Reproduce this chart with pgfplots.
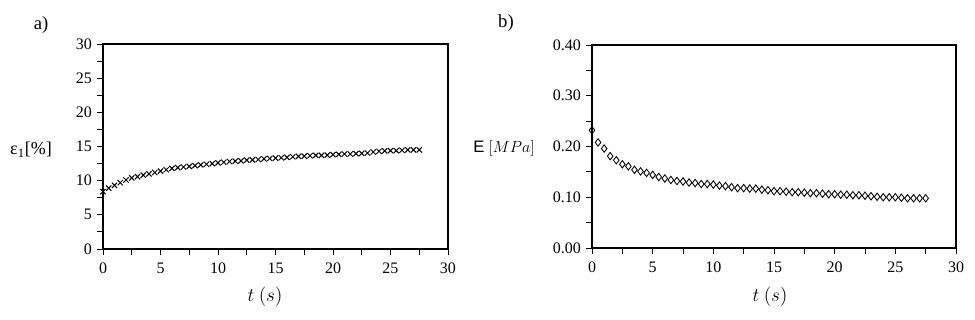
\documentclass[border=0pt]{standalone}
\usepackage{fontspec}
\setmainfont{Liberation Serif}
\newfontfamily\sansf{Liberation Sans}
\usepackage{pgfplots}
\pgfplotsset{compat=1.18}
\begin{document}
\fontsize{11pt}{13pt}\selectfont
\begin{tikzpicture}[x=0.75pt,y=0.75pt]
\useasboundingbox (0,0) rectangle (975,319);
\pgfplotsset{
  myax/.style={
    scale only axis,
    anchor=south west,
    xmin=0, xmax=30,
    xtick={0,5,...,30},
    minor x tick num=1,
    minor y tick num=1,
    tick align=outside,
    xtick pos=bottom, ytick pos=left,
    major tick length=4.5pt, minor tick length=4.5pt,
    axis line style={line width=0.8pt},
    every tick/.style={black, line width=0.7pt},
    tick label style={font=\fontsize{12pt}{14pt}\selectfont},
    xticklabel style={yshift=-2pt},
    /pgf/number format/assume math mode=true,
    clip=false,
  }
}
\begin{axis}[myax, at={(77.25pt,52.5pt)}, width=258.75pt, height=153.75pt,
  ymin=0, ymax=30, ytick={0,5,...,30}]
\addplot[only marks, mark=x, mark size=2.8pt, mark options={line width=0.75pt}] coordinates {
(0,8.4)(0.5,8.9)(1,9.3)(1.5,9.7)(2,10.1)(2.5,10.4)(3,10.6)(3.5,10.8)(4,11.0)(4.5,11.2)
(5,11.4)(5.5,11.6)(6,11.8)(6.5,11.9)(7,12.0)(7.5,12.1)(8,12.2)(8.5,12.3)(9,12.4)(9.5,12.5)
(10,12.6)(10.5,12.7)(11,12.8)(11.5,12.85)(12,12.9)(12.5,13.0)(13,13.05)(13.5,13.1)(14,13.2)(14.5,13.25)
(15,13.3)(15.5,13.35)(16,13.4)(16.5,13.5)(17,13.55)(17.5,13.6)(18,13.65)(18.5,13.7)(19,13.7)(19.5,13.75)
(20,13.8)(20.5,13.85)(21,13.9)(21.5,13.9)(22,13.95)(22.5,14.0)(23,14.05)(23.5,14.2)(24,14.3)(24.5,14.35)
(25,14.4)(25.5,14.4)(26,14.45)(26.5,14.5)(27,14.5)(27.5,14.5)
};
\end{axis}
\begin{axis}[myax, at={(444pt,53.25pt)}, width=273pt, height=152.25pt,
  ymin=0, ymax=0.4, ytick={0,0.1,...,0.4},
  yticklabel style={/pgf/number format/.cd, fixed, fixed zerofill, precision=2}]
\addplot[only marks, mark=diamond, mark size=2.8pt, mark options={line width=0.65pt}] coordinates {
(0,0.232)(0.5,0.208)(1,0.196)(1.5,0.181)(2,0.173)(2.5,0.165)(3,0.161)(3.5,0.154)(4,0.151)(4.5,0.148)
(5,0.144)(5.5,0.140)(6,0.137)(6.5,0.134)(7,0.132)(7.5,0.131)(8,0.129)(8.5,0.128)(9,0.126)(9.5,0.126)
(10,0.125)(10.5,0.123)(11,0.122)(11.5,0.120)(12,0.118)(12.5,0.118)(13,0.117)(13.5,0.117)(14,0.115)(14.5,0.114)
(15,0.112)(15.5,0.112)(16,0.111)(16.5,0.110)(17,0.110)(17.5,0.109)(18,0.108)(18.5,0.108)(19,0.107)(19.5,0.106)
(20,0.106)(20.5,0.105)(21,0.105)(21.5,0.104)(22,0.104)(22.5,0.103)(23,0.102)(23.5,0.101)(24,0.100)(24.5,0.100)
(25,0.100)(25.5,0.099)(26,0.098)(26.5,0.098)(27,0.098)(27.5,0.098)
};
\end{axis}
\node[font=\fontsize{14pt}{16pt}\selectfont] at (41,294) {a)};
\node[font=\fontsize{14pt}{16pt}\selectfont] at (506,296) {b)};
\node[font=\fontsize{13.5pt}{15pt}\selectfont] at (31,169) {ε\textsubscript{1}[\%]};
\node[font=\fontsize{12.5pt}{14pt}\selectfont] at (504,171) {{\sansf E} $[MPa]$};
\node[font=\fontsize{13.5pt}{15pt}\selectfont] at (265,22) {$t\ (s)$};
\node[font=\fontsize{13.5pt}{15pt}\selectfont] at (770,22) {$t\ (s)$};
\end{tikzpicture}
\end{document}
